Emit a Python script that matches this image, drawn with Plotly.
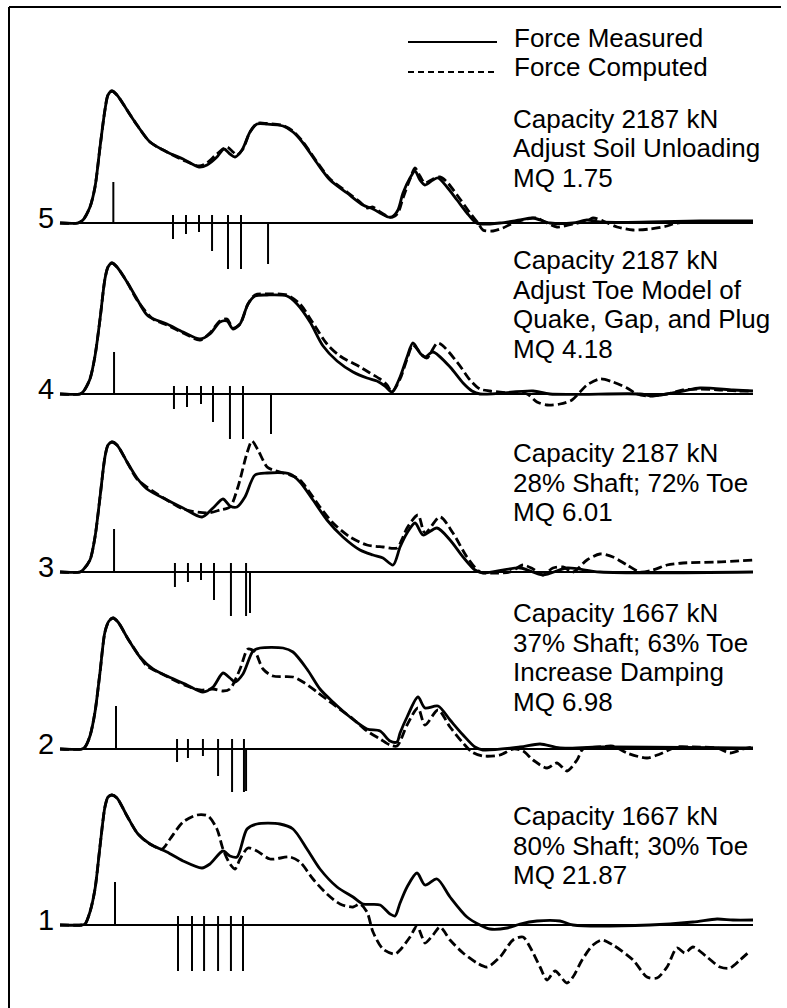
import plotly.graph_objects as go

W, H = 787, 1008

# ---------------------------------------------------------------
# Force records, (time [ms], force [kN]); one pair of curves per trial
# ---------------------------------------------------------------
meas_5 = [(0, 0), (1.29, 0), (1.64, 60), (2.14, 320), (2.5, 720), (2.86, 1520), (3.21, 2260),
          (3.43, 2560), (3.71, 2640), (4.07, 2560), (4.79, 2260), (5.5, 1960), (6.43, 1620),
          (7.64, 1420), (8.79, 1280), (9.93, 1120), (10.5, 1160), (11.21, 1320), (11.71, 1480),
          (12.14, 1380), (12.5, 1320), (13.0, 1460), (13.57, 1820), (14.07, 1980), (14.79, 1980),
          (15.93, 1940), (16.64, 1820), (17.36, 1600), (18.36, 1200), (19.29, 860), (20.5, 600),
          (21.64, 360), (22.36, 280), (22.86, 200), (23.43, 120), (23.71, 120), (24.14, 260),
          (24.5, 600), (25.0, 900), (25.36, 1040), (25.71, 860), (26.07, 760), (26.64, 860),
          (27.0, 900), (27.64, 720), (28.36, 460), (29.07, 200), (29.64, 20), (30.0, -20),
          (31.43, 0), (32.86, 60), (33.79, 100), (35.0, 0), (36.64, 0), (37.64, 60), (38.57, 20),
          (42.14, 20), (45.71, 40), (49.5, 40)]
comp_5 = [(0, 0), (1.29, 0), (1.64, 60), (2.14, 320), (2.5, 720), (2.86, 1520), (3.21, 2260),
          (3.43, 2560), (3.71, 2640), (4.07, 2560), (4.79, 2260), (5.5, 1960), (6.43, 1620),
          (7.64, 1420), (8.79, 1260), (9.93, 1140), (10.5, 1200), (11.21, 1380), (11.93, 1520),
          (12.36, 1420), (12.64, 1360), (13.07, 1480), (13.57, 1820), (14.07, 1990), (14.79, 1990),
          (15.93, 1950), (16.64, 1840), (17.36, 1620), (18.36, 1220), (19.29, 880), (20.5, 620),
          (21.43, 420), (21.93, 300), (22.36, 320), (22.86, 220), (23.43, 130), (23.79, 120),
          (24.14, 200), (24.5, 500), (25.0, 880), (25.36, 1100), (25.71, 940), (26.07, 800),
          (26.64, 880), (27.14, 920), (27.64, 820), (28.36, 560), (29.29, 200), (29.86, 0),
          (30.21, -140), (30.93, -160), (31.64, -100), (32.36, 0), (33.36, 80), (34.07, 100),
          (34.79, 0), (35.5, -80), (36.64, -20), (37.64, 40), (38.07, 100), (38.79, 40),
          (39.79, -80), (40.93, -140), (42.14, -120), (43.36, -60), (44.07, 0), (49.5, 20)]

meas_4 = [(0, 0), (1.43, 0), (1.64, 40), (2.14, 300), (2.5, 760), (2.86, 1500), (3.21, 2300),
          (3.43, 2540), (3.71, 2620), (4.07, 2540), (4.79, 2240), (5.5, 1900), (6.29, 1560),
          (7.64, 1400), (8.79, 1240), (10.0, 1100), (10.71, 1200), (11.43, 1440), (11.93, 1460),
          (12.36, 1300), (12.86, 1400), (13.43, 1800), (13.93, 1960), (14.79, 1980), (16.21, 1960),
          (16.93, 1800), (17.86, 1440), (18.79, 960), (19.79, 660), (20.93, 440), (21.93, 320),
          (22.64, 260), (23.21, 160), (23.71, 40), (24.29, 340), (24.79, 740), (25.21, 1020),
          (25.71, 820), (26.07, 740), (26.64, 840), (27.86, 540), (28.79, 220), (29.43, 60),
          (30.0, 0), (33.79, 60), (35.0, 0), (41.43, 0), (42.36, -40), (44.5, 60), (45.71, 120),
          (48.07, 80), (49.5, 60)]
comp_4 = [(0, 0), (1.43, 0), (1.64, 40), (2.14, 300), (2.5, 760), (2.86, 1500), (3.21, 2300),
          (3.43, 2540), (3.71, 2620), (4.07, 2540), (4.79, 2240), (5.5, 1880), (6.64, 1500),
          (7.64, 1380), (8.79, 1220), (10.0, 1080), (10.71, 1220), (11.43, 1460), (11.93, 1500),
          (12.36, 1320), (12.86, 1400), (13.43, 1800), (13.93, 1980), (14.79, 2000), (16.21, 1980),
          (17.14, 1800), (18.07, 1420), (19.07, 1000), (20.0, 760), (21.43, 540), (22.14, 420),
          (22.86, 300), (23.36, 180), (23.71, 40), (24.29, 300), (24.79, 700), (25.21, 980),
          (25.86, 780), (26.21, 720), (27.0, 1020), (28.36, 640), (29.29, 280), (30.0, 100),
          (30.71, 60), (32.14, 20), (33.36, 0), (34.07, -160), (34.79, -220), (35.71, -200),
          (36.57, -120), (37.14, 40), (37.64, 180), (38.57, 300), (39.5, 240), (40.5, 120),
          (41.21, 0), (41.93, -40), (43.36, 0), (44.5, 80), (45.71, 100), (47.14, 80),
          (48.36, 60), (49.5, 60)]

meas_3 = [(0, 0), (1.43, 0), (1.64, 40), (2.14, 240), (2.5, 700), (2.86, 1500), (3.21, 2300),
          (3.43, 2540), (3.71, 2600), (4.07, 2540), (4.79, 2200), (5.5, 1880), (6.21, 1660),
          (7.64, 1440), (8.79, 1280), (10.14, 1100), (10.93, 1280), (11.64, 1460), (12.14, 1320),
          (12.64, 1300), (13.21, 1500), (13.93, 1940), (14.79, 1980), (16.43, 1960), (17.14, 1800),
          (18.07, 1440), (19.07, 1040), (20.21, 700), (21.43, 440), (22.36, 340), (23.07, 280),
          (23.79, 140), (24.29, 500), (24.79, 780), (25.36, 980), (25.93, 740), (26.93, 880),
          (27.86, 640), (28.79, 300), (29.64, 40), (30.21, -20), (32.86, 80), (34.5, -60),
          (36.21, 80), (38.57, 0), (49.5, 0)]
comp_3 = [(0, 0), (1.43, 0), (1.64, 40), (2.14, 240), (2.5, 700), (2.86, 1500), (3.21, 2300),
          (3.43, 2540), (3.71, 2600), (4.07, 2540), (4.79, 2200), (5.5, 1860), (6.93, 1560),
          (7.64, 1440), (8.79, 1260), (10.5, 1180), (11.43, 1240), (12.14, 1300), (12.71, 1700),
          (13.36, 2380), (13.71, 2620), (14.14, 2440), (14.79, 2100), (15.21, 2040), (16.43, 1940),
          (17.14, 1840), (18.57, 1300), (19.5, 980), (20.71, 700), (21.93, 540), (23.07, 500),
          (24.07, 480), (24.5, 700), (24.79, 880), (25.57, 1140), (26.07, 780), (27.14, 1100),
          (28.07, 780), (29.07, 300), (30.0, 0), (30.93, -20), (32.14, 0), (33.07, 140),
          (33.79, 60), (34.5, -60), (35.21, 80), (35.93, 100), (36.64, 0), (37.64, 240),
          (38.57, 360), (39.5, 300), (40.5, 140), (41.43, 0), (42.36, 40), (43.36, 140),
          (44.5, 180), (46.93, 200), (49.5, 240)]

meas_2 = [(0, 0), (1.57, 0), (1.79, 40), (2.14, 260), (2.5, 740), (2.86, 1540), (3.21, 2340),
          (3.5, 2560), (3.79, 2620), (4.14, 2540), (4.86, 2200), (5.71, 1840), (6.64, 1600),
          (7.64, 1460), (9.07, 1280), (10.21, 1140), (10.93, 1240), (11.64, 1520), (12.14, 1420),
          (12.5, 1340), (13.07, 1500), (13.79, 1960), (14.29, 2020), (15.93, 2020), (16.64, 1940),
          (17.64, 1600), (18.57, 1200), (19.5, 940), (20.71, 640), (21.93, 400), (22.86, 360),
          (23.57, 160), (24.07, 140), (24.29, 320), (24.79, 640), (25.57, 1040), (26.07, 820),
          (27.0, 860), (27.86, 580), (28.79, 280), (29.64, 40), (30.21, -20), (32.86, 40),
          (34.29, 100), (35.71, 20), (38.57, 40), (49.5, 20)]
comp_2 = [(0, 0), (1.57, 0), (1.79, 40), (2.14, 260), (2.5, 740), (2.86, 1540), (3.21, 2340),
          (3.5, 2560), (3.79, 2620), (4.14, 2540), (4.86, 2200), (5.71, 1840), (6.21, 1660),
          (7.14, 1520), (9.07, 1260), (10.0, 1180), (10.93, 1200), (11.64, 1160), (12.14, 1200),
          (12.86, 1600), (13.43, 2000), (13.93, 1940), (14.5, 1600), (15.21, 1460), (16.64, 1440),
          (17.36, 1340), (18.36, 1140), (19.29, 940), (20.93, 600), (21.93, 360), (22.86, 200),
          (23.57, 80), (24.07, 60), (24.79, 480), (25.57, 820), (26.07, 480), (27.0, 780),
          (27.86, 440), (28.79, 120), (29.43, -60), (30.21, -140), (31.43, -120), (32.36, 0),
          (33.07, -40), (33.79, -220), (34.79, -380), (35.5, -280), (36.21, -440), (36.93, -220),
          (37.36, 0), (38.57, 40), (39.5, 60), (40.5, -80), (41.93, -180), (42.86, -100),
          (44.07, 40), (45.21, 40), (46.93, 20), (47.86, -80), (48.79, 0), (49.5, 40)]

meas_1 = [(0, 0), (1.57, 0), (1.79, 20), (2.14, 260), (2.5, 720), (2.86, 1580), (3.21, 2360),
          (3.43, 2560), (3.71, 2600), (4.07, 2540), (4.79, 2180), (5.57, 1820), (6.43, 1620),
          (7.64, 1460), (8.79, 1280), (10.14, 1140), (10.71, 1220), (11.64, 1480), (12.14, 1380),
          (12.64, 1360), (13.36, 1920), (14.07, 2020), (15.71, 2020), (16.64, 1920), (17.64, 1520),
          (18.57, 1120), (19.79, 760), (20.93, 560), (21.64, 420), (22.86, 400), (23.57, 220),
          (23.93, 180), (24.29, 440), (24.79, 760), (25.5, 1040), (26.07, 800), (26.93, 920),
          (27.86, 560), (29.07, 160), (30.0, 0), (30.71, -80), (31.93, -60), (32.86, 20),
          (34.07, 80), (35.71, 80), (36.64, 0), (42.14, 0), (45.21, 60), (46.93, 120),
          (48.07, 100), (49.5, 100)]
comp_1 = [(0, 0), (1.57, 0), (1.79, 20), (2.14, 260), (2.5, 720), (2.86, 1580), (3.21, 2360),
          (3.43, 2560), (3.71, 2600), (4.07, 2540), (4.79, 2180), (5.57, 1820), (6.43, 1620),
          (7.29, 1520), (7.86, 1720), (8.79, 2060), (9.79, 2200), (10.57, 2180), (11.21, 1920),
          (11.64, 1520), (12.14, 1220), (12.5, 1120), (12.86, 1320), (13.43, 1540), (14.07, 1480),
          (15.0, 1320), (16.43, 1360), (17.14, 1260), (18.07, 920), (19.07, 620), (20.0, 420),
          (20.93, 360), (21.43, 420), (21.93, 260), (22.36, -140), (23.07, -480), (23.93, -580),
          (24.29, -500), (25.0, -240), (25.5, -20), (25.86, -240), (26.07, -360), (26.64, -200),
          (27.14, -40), (27.86, -300), (28.79, -560), (29.79, -760), (30.5, -840), (31.43, -640),
          (32.36, -300), (33.07, -240), (33.57, -440), (34.29, -840), (34.79, -1100),
          (35.36, -920), (36.21, -1160), (36.64, -1040), (37.29, -700), (38.07, -400),
          (38.71, -300), (39.5, -400), (40.93, -700), (41.93, -1040), (42.64, -1060),
          (43.36, -840), (44.07, -460), (44.64, -560), (45.21, -440), (46.21, -640),
          (47.14, -840), (47.86, -860), (48.57, -700), (49.29, -520)]

# Record length shown on each trace axis (ms)
record_end = 49.5

# Upward marker at the first peak, (time ms, height kN), trials 5..1
peak_mark = [(3.81, 820), (3.86, 840), (3.86, 860), (4.0, 860), (3.93, 860)]

# Soil resistance segments: time (ms), drop below the axis (kN), tick above the axis (kN)
seg_t_5 = [8.07, 9.0, 9.93, 10.86, 12.0, 12.93, 14.86]
seg_r_5 = [320, 220, 180, 560, 920, 920, 820]
seg_k_5 = [160, 160, 160, 160, 160, 160, 0]

seg_t_4 = [8.14, 9.07, 10.07, 10.93, 12.14, 13.07, 15.07]
seg_r_4 = [300, 260, 200, 560, 900, 900, 800]
seg_k_4 = [160, 160, 160, 160, 160, 160, 0]

seg_t_3 = [8.21, 9.14, 10.07, 11.0, 12.21, 13.29, 13.57]
seg_r_3 = [300, 200, 160, 560, 880, 880, 820]
seg_k_3 = [180, 180, 180, 180, 180, 180, 0]

seg_t_2 = [8.36, 9.14, 10.21, 11.29, 12.29, 13.14, 13.29]
seg_r_2 = [260, 180, 140, 540, 860, 860, 840]
seg_k_2 = [200, 200, 200, 200, 200, 200, 0]

seg_t_1 = [8.43, 9.43, 10.29, 11.29, 12.21, 13.07]
seg_r_1 = [920, 920, 920, 920, 920, 920]
seg_k_1 = [180, 180, 180, 180, 180, 180]

trial_labels = ["5", "4", "3", "2", "1"]
notes_5 = ["Capacity 2187 kN", "Adjust Soil Unloading", "MQ 1.75"]
notes_4 = ["Capacity 2187 kN", "Adjust Toe Model of", "Quake, Gap, and Plug", "MQ 4.18"]
notes_3 = ["Capacity 2187 kN", "28% Shaft; 72% Toe", "MQ 6.01"]
notes_2 = ["Capacity 1667 kN", "37% Shaft; 63% Toe", "Increase Damping", "MQ 6.98"]
notes_1 = ["Capacity 1667 kN", "80% Shaft; 30% Toe", "MQ 21.87"]
legend_names = ["Force Measured", "Force Computed"]

# ---------------------------------------------------------------
# Page geometry (pixels)
# ---------------------------------------------------------------
FONT = "Liberation Sans, Arial, Helvetica, sans-serif"
PX_PER_MS = 14.0          # horizontal scale
KN_PER_PX = 20.0          # vertical scale
X0_PX = 60                # where time zero sits
axis_px = [223, 394, 572, 749, 925]      # baseline of each trial strip
note_top_px = [118.7, 260, 453, 613, 816]
NOTE_STEP = 29.7
NOTE_X_PX = 511
LINE_W = 2.8
DASH = "9px,4px"

trials = [
    (meas_5, comp_5, seg_t_5, seg_r_5, seg_k_5, notes_5),
    (meas_4, comp_4, seg_t_4, seg_r_4, seg_k_4, notes_4),
    (meas_3, comp_3, seg_t_3, seg_r_3, seg_k_3, notes_3),
    (meas_2, comp_2, seg_t_2, seg_r_2, seg_k_2, notes_2),
    (meas_1, comp_1, seg_t_1, seg_r_1, seg_k_1, notes_1),
]


def px_x(px):
    return px / W


def px_y(py):
    return 1 - py / H


fig = go.Figure()
layout_axes = {}
annotations = []

for i, (meas, comp, st, sr, sk, notes) in enumerate(trials):
    yref = "y" if i == 0 else f"y{i + 1}"
    axkey = "yaxis" if i == 0 else f"yaxis{i + 1}"
    b = axis_px[i]
    top = max(b - 170, 0)
    bot = min(b + 85, H)
    layout_axes[axkey] = dict(
        domain=[1 - bot / H, 1 - top / H],
        range=[-(bot - b) * KN_PER_PX, (b - top) * KN_PER_PX],
        anchor="x", visible=False, fixedrange=True,
    )

    # zero-force axis line
    fig.add_trace(go.Scatter(x=[0, record_end], y=[0, 0], mode="lines",
                             line=dict(color="black", width=2), yaxis=yref,
                             hoverinfo="skip", showlegend=False))

    # peak marker and resistance segments
    sx, sy = [], []
    pt, ph = peak_mark[i]
    sx += [pt, pt, None]
    sy += [0, ph, None]
    for t, r, k in zip(st, sr, sk):
        sx += [t, t, None]
        sy += [k, -r, None]
    fig.add_trace(go.Scatter(x=sx, y=sy, mode="lines",
                             line=dict(color="black", width=2), yaxis=yref,
                             hoverinfo="skip", showlegend=False))

    # measured and computed force
    fig.add_trace(go.Scatter(x=[p[0] for p in meas], y=[p[1] for p in meas], mode="lines",
                             line=dict(color="black", width=LINE_W, shape="spline", smoothing=0.8),
                             yaxis=yref, name=legend_names[0], showlegend=False))
    fig.add_trace(go.Scatter(x=[p[0] for p in comp], y=[p[1] for p in comp], mode="lines",
                             line=dict(color="black", width=LINE_W, dash=DASH,
                                       shape="spline", smoothing=0.8),
                             yaxis=yref, name=legend_names[1], showlegend=False))

    # trial number
    annotations.append(dict(text=trial_labels[i], xref="paper", yref="paper",
                            x=px_x(56), y=px_y(b - 5), xanchor="right", yanchor="middle",
                            showarrow=False, font=dict(family=FONT, size=29, color="black")))
    # notes
    for j, line in enumerate(notes):
        annotations.append(dict(text=line, xref="paper", yref="paper",
                                x=px_x(NOTE_X_PX), y=px_y(note_top_px[i] + j * NOTE_STEP),
                                xanchor="left", yanchor="middle", showarrow=False,
                                font=dict(family=FONT, size=26, color="black")))

# legend (drawn as keys + text at the top right)
legend_y_px = [38.5, 67.5]
key_y_px = [42, 72]
shapes = []
for j, name in enumerate(legend_names):
    annotations.append(dict(text=name, xref="paper", yref="paper",
                            x=px_x(512), y=px_y(legend_y_px[j]), xanchor="left",
                            yanchor="middle", showarrow=False,
                            font=dict(family=FONT, size=26, color="black")))
    shapes.append(dict(type="line", xref="paper", yref="paper",
                       x0=px_x(408), x1=px_x(497), y0=px_y(key_y_px[j]), y1=px_y(key_y_px[j]),
                       line=dict(color="black", width=2.2, dash=None if j == 0 else "6px,4px")))

# frame along top and left edges
shapes.append(dict(type="line", xref="paper", yref="paper", x0=px_x(9), x1=px_x(781),
                   y0=px_y(7), y1=px_y(7), line=dict(color="black", width=2)))
shapes.append(dict(type="line", xref="paper", yref="paper", x0=px_x(9), x1=px_x(9),
                   y0=px_y(7), y1=0, line=dict(color="black", width=2)))

fig.update_layout(
    width=W, height=H,
    margin=dict(l=0, r=0, t=0, b=0),
    paper_bgcolor="white", plot_bgcolor="rgba(0,0,0,0)",
    xaxis=dict(domain=[0, 1], range=[-X0_PX / PX_PER_MS, (W - X0_PX) / PX_PER_MS],
               anchor="y5", visible=False, fixedrange=True),
    annotations=annotations, shapes=shapes,
    showlegend=False,
    **layout_axes,
)

fig.write_html("out.html", config={"displayModeBar": False})
